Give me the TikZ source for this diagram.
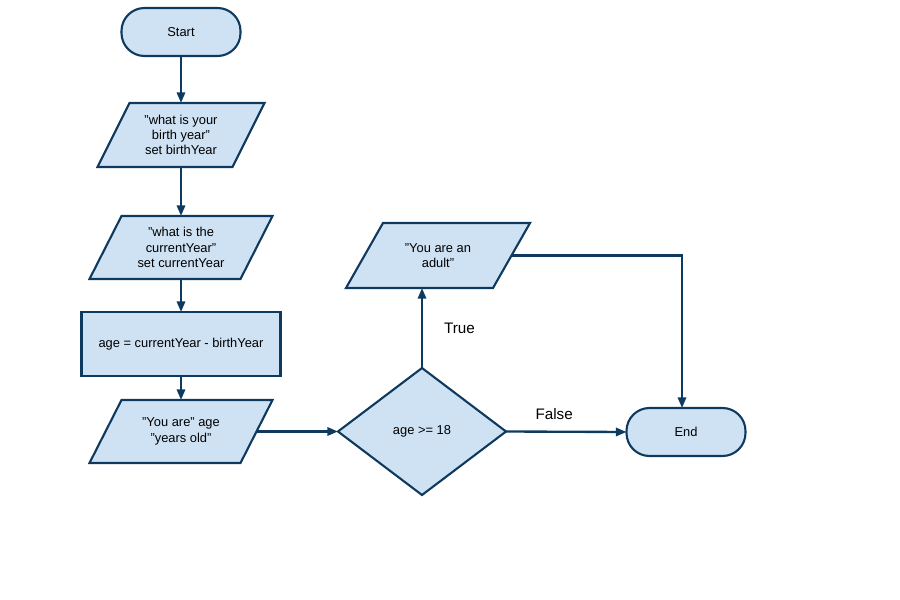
\documentclass[tikz,border=0pt]{standalone}
\usepackage{fontspec}
\setmainfont{Liberation Sans}
\usetikzlibrary{calc, positioning, arrows.meta, shapes.geometric, backgrounds}

\newcommand{\pxu}{0.03cm}
\definecolor{boxfill}{HTML}{CFE2F3}
\definecolor{boxline}{HTML}{0F3A5F}

\tikzset{
  base/.style={line width=1.8pt, draw=boxline, fill=boxfill, font=\fontsize{11}{13}\selectfont, align=center, inner sep=0pt, outer sep=0pt},
  term/.style={base, rectangle, rounded corners=23*\pxu, minimum width=119*\pxu, minimum height=48*\pxu},
  proc/.style={base, rectangle, minimum width=199*\pxu, minimum height=64*\pxu},
  io/.style={rectangle, align=center, inner sep=0pt, outer sep=0pt, font=\fontsize{11}{13}\selectfont},
  dec/.style={base, diamond, minimum width=168*\pxu, minimum height=127*\pxu},
  arr/.style={line width=2pt, draw=boxline, -{Triangle[length=9pt, width=7pt]}},
  lbl/.style={font=\fontsize{13}{15}\selectfont}
}

\begin{document}
\begin{tikzpicture}[x=\pxu, y=-\pxu]
  \useasboundingbox (0,0) rectangle (900,600);

  % left column
  \node[term] (start) at (181,32) {Start};
  \node[io, minimum width=135*\pxu, minimum height=64*\pxu] (ask1) at (181,135)
    {"what is your\\birth year"\\set birthYear};
  \node[io, minimum width=151*\pxu, minimum height=63*\pxu] (ask2) at (181,247.5)
    {"what is the\\currentYear"\\set currentYear};
  \node[proc] (calc) at (181,344) {age = currentYear - birthYear};
  \node[io, minimum width=151*\pxu, minimum height=63*\pxu] (say) at (181,431.5)
    {"You are" age\\"years old"};

  % decision and right part
  \node[dec] (check) at (422,431.5) {age >= 18};
  \node[io, minimum width=147*\pxu, minimum height=65*\pxu] (adult) at (438,255.5)
    {"You are an\\adult"};
  \node[term] (end) at (686,432) {End};

  % parallelograms behind the io nodes
  \begin{scope}[on background layer]
    \foreach \n/\s in {ask1/16, ask2/16, say/16, adult/18.5}
      \draw[line width=1.8pt, draw=boxline, fill=boxfill]
        ($(\n.north west)+(\s,0)$) -- ($(\n.north east)+(\s,0)$)
        -- ($(\n.south east)-(\s,0)$) -- ($(\n.south west)-(\s,0)$) -- cycle;
  \end{scope}

  % connectors
  \draw[arr] (start) -- (ask1);
  \draw[arr] (ask1) -- (ask2);
  \draw[arr] (ask2) -- (calc);
  \draw[arr] (calc) -- (say);
  \draw[arr] (say.east) -- (check.west);
  \draw[arr] (check.north) -- (check.north |- adult.south)
    node[lbl, midway, right=17*\pxu] {True};
  \draw[arr] (check.east) -- (end.west)
    node[lbl, pos=0.4, above=7*\pxu] {False};
  \draw[arr] (adult.east) -| ($(end.north)+(-4,0)$);
\end{tikzpicture}
\end{document}
